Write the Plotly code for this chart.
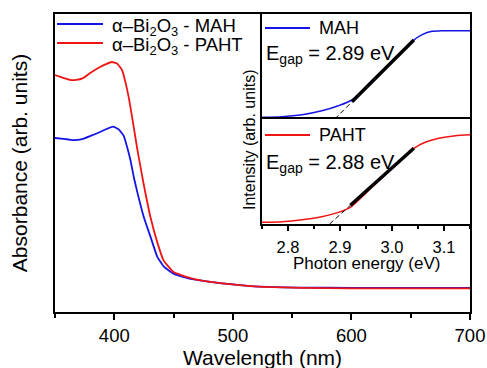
import plotly.graph_objects as go

# ---- main absorbance spectra (arbitrary units) ----
wl_mah = [350, 357, 365, 372, 380, 388, 394, 398.9, 403.7, 408, 410.7, 413.6, 416.4, 419,
          424.8, 430.5, 436.2, 441.8, 450.3, 464.4, 481, 515, 557, 600, 700]
abs_mah = [0.584, 0.581, 0.577, 0.579, 0.591, 0.604, 0.615, 0.622, 0.613, 0.591, 0.555,
           0.510, 0.454, 0.409, 0.320, 0.253, 0.186, 0.152, 0.128, 0.111, 0.101, 0.087,
           0.082, 0.081, 0.081]

wl_paht = [350, 357.6, 362.7, 367.8, 373.7, 379.7, 388, 393, 398, 402.3, 406.5, 409.3,
           412.1, 415, 419.5, 424.6, 430.5, 436.4, 441.5, 450, 464.4, 481.4, 515, 557.6,
           600, 700]
abs_paht = [0.795, 0.785, 0.779, 0.779, 0.785, 0.802, 0.822, 0.832, 0.839, 0.834, 0.812,
            0.773, 0.722, 0.655, 0.544, 0.433, 0.319, 0.232, 0.174, 0.134, 0.114, 0.101,
            0.087, 0.081, 0.079, 0.079]

# ---- inset: Tauc-like plots ----
e_mah = [2.75, 2.788, 2.827, 2.865, 2.897, 2.923, 2.96, 3.0, 3.042, 3.058, 3.077, 3.096, 3.15]
i_mah = [0.016, 0.022, 0.041, 0.079, 0.127, 0.181, 0.359, 0.551, 0.752, 0.803, 0.835, 0.841, 0.841]

e_paht = [2.75, 2.788, 2.827, 2.865, 2.897, 2.92, 2.96, 3.0, 3.042, 3.064, 3.090, 3.122, 3.15]
i_paht = [0.016, 0.022, 0.041, 0.070, 0.111, 0.159, 0.343, 0.528, 0.721, 0.778, 0.816, 0.841, 0.850]

egap_mah, slope_mah, fit_mah = 2.89, 4.95, [2.923, 3.042]
egap_paht, slope_paht, fit_paht = 2.88, 4.45, [2.92, 3.042]

series_names = ["α–Bi<sub>2</sub>O<sub>3</sub> - MAH", "α–Bi<sub>2</sub>O<sub>3</sub> - PAHT"]
inset_names = ["MAH", "PAHT"]

BLUE = "#1414e6"
RED = "#f01414"
FONT = "Arial, Liberation Sans, sans-serif"

# plot-area geometry (pixels) used to place legend decorations
W, H = 487, 368
ML, MR, MT, MB = 55, 17, 14, 56
PW, PH = W - ML - MR, H - MT - MB


def px(x):
    return (x - ML) / PW


def py(y):
    return (H - MB - y) / PH


fig = go.Figure()

fig.add_trace(go.Scatter(x=wl_mah, y=abs_mah, mode="lines", name=series_names[0],
                         line=dict(color=BLUE, width=1.8, shape="spline", smoothing=0.4),
                         xaxis="x", yaxis="y", showlegend=False))
fig.add_trace(go.Scatter(x=wl_paht, y=abs_paht, mode="lines", name=series_names[1],
                         line=dict(color=RED, width=1.8, shape="spline", smoothing=0.4),
                         xaxis="x", yaxis="y", showlegend=False))


def fit_line(egap, slope, rng):
    xs_d = [egap, rng[0]]
    xs_s = [rng[0], rng[1]]
    return (xs_d, [slope * (x - egap) for x in xs_d],
            xs_s, [slope * (x - egap) for x in xs_s])


# upper inset
fig.add_trace(go.Scatter(x=e_mah, y=i_mah, mode="lines", name=inset_names[0],
                         line=dict(color=BLUE, width=1.5, shape="spline", smoothing=0.6),
                         xaxis="x2", yaxis="y2", showlegend=False))
xd, yd, xs, ys = fit_line(egap_mah, slope_mah, fit_mah)
fig.add_trace(go.Scatter(x=xd, y=yd, mode="lines", showlegend=False,
                         line=dict(color="black", width=1, dash="5px,3px"), xaxis="x2", yaxis="y2"))
fig.add_trace(go.Scatter(x=xs, y=ys, mode="lines", showlegend=False,
                         line=dict(color="black", width=3.5), xaxis="x2", yaxis="y2"))

# lower inset
fig.add_trace(go.Scatter(x=e_paht, y=i_paht, mode="lines", name=inset_names[1],
                         line=dict(color=RED, width=1.5, shape="spline", smoothing=0.6),
                         xaxis="x3", yaxis="y3", showlegend=False))
xd, yd, xs, ys = fit_line(egap_paht, slope_paht, fit_paht)
fig.add_trace(go.Scatter(x=xd, y=yd, mode="lines", showlegend=False,
                         line=dict(color="black", width=1, dash="5px,3px"), xaxis="x3", yaxis="y3"))
fig.add_trace(go.Scatter(x=xs, y=ys, mode="lines", showlegend=False,
                         line=dict(color="black", width=3.5), xaxis="x3", yaxis="y3"))

ax_common = dict(showgrid=False, zeroline=False, linecolor="black", linewidth=1.5,
                 mirror=True, showline=True, automargin=False)

inset_x0 = px(262)
up_y0 = py(119)
low_y0 = py(224)

# legend-like decorations (line sample + label)
legend_items = [
    (57, 103, 24, 110, 18.5, series_names[0], BLUE),
    (57, 103, 43, 110, 18.5, series_names[1], RED),
    (265, 310, 28, 317, 18, inset_names[0], BLUE),
    (265, 310, 135, 317, 18, inset_names[1], RED),
]
shapes = []
annotations = []
for x0, x1, yy, tx, fs, label, col in legend_items:
    shapes.append(dict(type="line", xref="paper", yref="paper", x0=px(x0), x1=px(x1),
                       y0=py(yy), y1=py(yy), line=dict(color=col, width=1.8)))
    sub = "<sub>" in label
    annotations.append(dict(text=label, xref="paper", yref="paper", x=px(tx),
                            y=py(yy + (3 if sub else 0)), xanchor="left", yanchor="middle",
                            showarrow=False, font=dict(size=fs)))

annotations += [
    dict(text="E<sub>gap</sub> = %.2f eV" % egap_mah, xref="paper", yref="paper",
         x=px(264), y=py(54), xanchor="left", yanchor="middle",
         showarrow=False, font=dict(size=20)),
    dict(text="E<sub>gap</sub> = %.2f eV" % egap_paht, xref="paper", yref="paper",
         x=px(264), y=py(163), xanchor="left", yanchor="middle",
         showarrow=False, font=dict(size=20)),
    dict(text="Intensity (arb. units)", xref="paper", yref="paper",
         x=px(249), y=py(140), xanchor="center", yanchor="middle", textangle=-90,
         showarrow=False, font=dict(size=16)),
    dict(text="Photon energy (eV)", xref="paper", yref="paper",
         x=(inset_x0 + 1) / 2, y=py(263), xanchor="center", yanchor="middle",
         showarrow=False, font=dict(size=17)),
    dict(text="Wavelength (nm)", xref="paper", yref="paper",
         x=0.5, y=py(357), xanchor="center", yanchor="middle",
         showarrow=False, font=dict(size=21)),
]

fig.update_layout(
    width=W, height=H,
    margin=dict(l=ML, r=MR, t=MT, b=MB, autoexpand=False),
    paper_bgcolor="white", plot_bgcolor="white",
    font=dict(family=FONT, color="black"),
    showlegend=False,
    xaxis=dict(**ax_common, range=[350, 700], dtick=100, tick0=400, ticks="outside",
               ticklen=6, tickwidth=1.5, tickcolor="black",
               minor=dict(dtick=50, tick0=350, ticks="outside", ticklen=4, tickwidth=1.5,
                          tickcolor="black"),
               tickfont=dict(size=18.5), domain=[0, 1], anchor="y"),
    yaxis=dict(**ax_common, range=[0, 1], showticklabels=False, ticks="", domain=[0, 1],
               anchor="x",
               title=dict(text="Absorbance (arb. units)", font=dict(size=21), standoff=20)),
    xaxis2=dict(**ax_common, range=[2.75, 3.15], domain=[inset_x0, 1], anchor="y2",
                dtick=0.1, tick0=2.8, ticks="outside", ticklen=5, tickwidth=1.5,
                tickcolor="black", showticklabels=False,
                minor=dict(dtick=0.05, ticks="outside", ticklen=3, tickwidth=1.5,
                           tickcolor="black")),
    yaxis2=dict(**ax_common, range=[0, 1], domain=[up_y0, 1], anchor="x2",
                showticklabels=False, ticks=""),
    xaxis3=dict(**ax_common, range=[2.75, 3.15], domain=[inset_x0, 1], anchor="y3",
                dtick=0.1, tick0=2.8, ticks="outside", ticklen=5, tickwidth=1.5,
                tickcolor="black", tickformat=".1f", tickfont=dict(size=16.5),
                ticklabelstandoff=2,
                minor=dict(dtick=0.05, ticks="outside", ticklen=3, tickwidth=1.5,
                           tickcolor="black")),
    yaxis3=dict(**ax_common, range=[0, 1], domain=[low_y0, up_y0], anchor="x3",
                showticklabels=False, ticks=""),
    shapes=shapes,
    annotations=annotations,
)

fig.write_html("out.html")
